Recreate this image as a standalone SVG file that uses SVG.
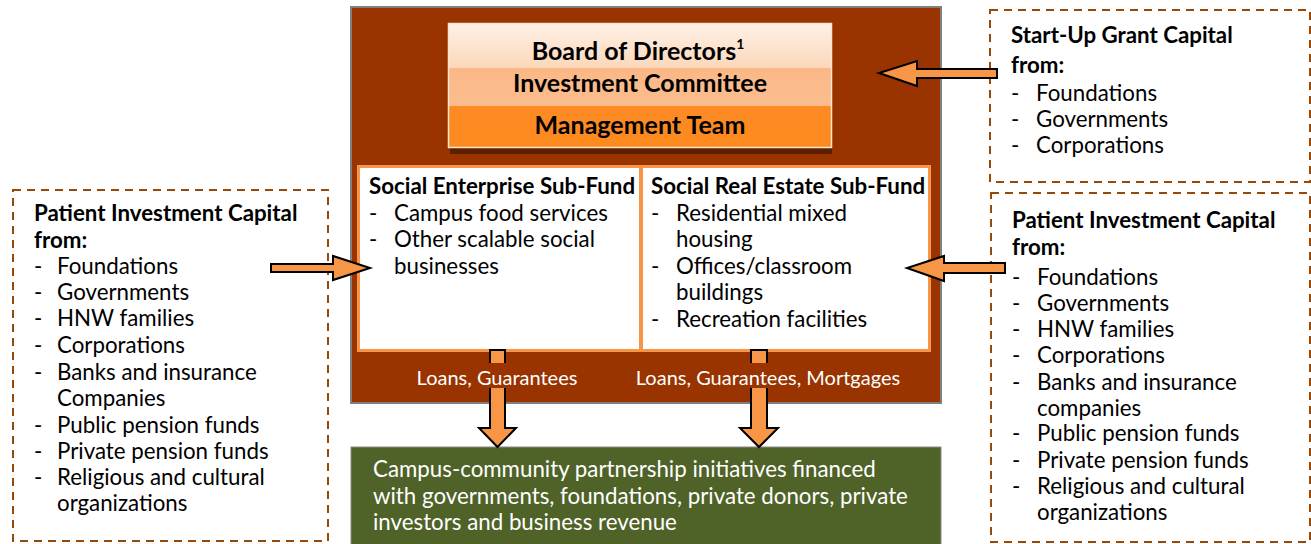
<svg xmlns="http://www.w3.org/2000/svg" width="1311" height="544" viewBox="0 0 1311 544">
<defs>
<style>
.t{font-family:Lato,"Liberation Sans",sans-serif;font-size:22.3px;fill:#000}
.b{font-weight:bold}
.w{fill:#fff}
.h{font-size:25px}
.lbl{font-size:20px}
.dash{fill:#fff;stroke:#984807;stroke-width:2;stroke-dasharray:8 6}
.arr{fill:#f79646;stroke:#000;stroke-width:2;stroke-linejoin:miter}
</style>
<linearGradient id="gBoard" x1="0" y1="0" x2="0" y2="1">
<stop offset="0" stop-color="#fef1e8"/><stop offset="1" stop-color="#fcd7b8"/>
</linearGradient>
<linearGradient id="gIC" x1="0" y1="0" x2="0" y2="1">
<stop offset="0" stop-color="#fbb886"/><stop offset="1" stop-color="#fbbd8e"/>
</linearGradient>
<linearGradient id="gMT" x1="0" y1="0" x2="0" y2="1">
<stop offset="0" stop-color="#fd8a24"/><stop offset="1" stop-color="#fd8a1e"/>
</linearGradient>
</defs>
<rect width="1311" height="544" fill="#fff"/>

<g id="main-fund">
<rect x="351" y="7" width="590" height="396" fill="#993300" stroke="#808080" stroke-width="2"/>
</g>

<g id="governance">
<rect x="450" y="148" width="382" height="6" fill="#5c1f00"/>
<rect x="448" y="23" width="384" height="46" fill="url(#gBoard)"/>
<rect x="448" y="68" width="384" height="39" fill="url(#gIC)"/>
<rect x="448" y="106" width="384" height="42" fill="url(#gMT)"/>
<rect x="448.5" y="23.5" width="383" height="124" fill="none" stroke="#fde4d0" stroke-width="1.5"/>
<text class="t b h" x="638" y="60" text-anchor="middle">Board of Directors<tspan font-size="14" dy="-11">1</tspan></text>
<text class="t b h" x="640" y="92" text-anchor="middle">Investment Committee</text>
<text class="t b h" x="640" y="134" text-anchor="middle">Management Team</text>
</g>

<g id="sub-funds">
<rect x="357" y="165" width="574" height="187" fill="#f79646"/>
<rect x="360" y="168" width="279" height="181" fill="#fff"/>
<rect x="643" y="168" width="285" height="181" fill="#fff"/>
</g>

<g id="social-enterprise">
<text class="t b" x="369" y="194">Social Enterprise Sub-Fund</text>
<text class="t" x="369" y="221">-</text><text class="t" x="394" y="221">Campus food services</text>
<text class="t" x="369" y="247">-</text><text class="t" x="394" y="247">Other scalable social</text>
<text class="t" x="394" y="274">businesses</text>
</g>

<g id="social-real-estate">
<text class="t b" x="651" y="194">Social Real Estate Sub-Fund</text>
<text class="t" x="651" y="221">-</text><text class="t" x="676" y="221">Residential mixed</text>
<text class="t" x="676" y="247">housing</text>
<text class="t" x="651" y="274">-</text><text class="t" x="676" y="274">Offices/classroom</text>
<text class="t" x="676" y="300">buildings</text>
<text class="t" x="651" y="327">-</text><text class="t" x="676" y="327">Recreation facilities</text>
</g>

<g id="outcome">
<rect x="351" y="447" width="590" height="100" fill="#4f6228" stroke="#8a8a8a" stroke-width="1"/>
<text class="t w" x="373" y="477">Campus-community partnership initiatives financed</text>
<text class="t w" x="373" y="504">with governments, foundations, private donors, private</text>
<text class="t w" x="373" y="530">investors and business revenue</text>
</g>

<g id="startup-grant">
<rect class="dash" x="990" y="10" width="320" height="172"/>
<text class="t b" x="1011" y="43">Start-Up Grant Capital</text>
<text class="t b" x="1011" y="73">from:</text>
<text class="t" x="1011" y="101">-</text><text class="t" x="1036" y="101">Foundations</text>
<text class="t" x="1011" y="127">-</text><text class="t" x="1036" y="127">Governments</text>
<text class="t" x="1011" y="153">-</text><text class="t" x="1036" y="153">Corporations</text>
</g>

<g id="patient-left">
<rect class="dash" x="13" y="190" width="315" height="351"/>
<text class="t b" x="34" y="221">Patient Investment Capital</text>
<text class="t b" x="34" y="248">from:</text>
<text class="t" x="34" y="274">-</text><text class="t" x="57" y="274">Foundations</text>
<text class="t" x="34" y="300">-</text><text class="t" x="57" y="300">Governments</text>
<text class="t" x="34" y="326">-</text><text class="t" x="57" y="326">HNW families</text>
<text class="t" x="34" y="353">-</text><text class="t" x="57" y="353">Corporations</text>
<text class="t" x="34" y="380">-</text><text class="t" x="57" y="380">Banks and insurance</text>
<text class="t" x="57" y="406">Companies</text>
<text class="t" x="34" y="433">-</text><text class="t" x="57" y="433">Public pension funds</text>
<text class="t" x="34" y="459">-</text><text class="t" x="57" y="459">Private pension funds</text>
<text class="t" x="34" y="485">-</text><text class="t" x="57" y="485">Religious and cultural</text>
<text class="t" x="57" y="511">organizations</text>
</g>

<g id="patient-right">
<rect class="dash" x="991" y="193" width="319" height="349"/>
<text class="t b" x="1012" y="228">Patient Investment Capital</text>
<text class="t b" x="1012" y="255">from:</text>
<text class="t" x="1012" y="285">-</text><text class="t" x="1037" y="285">Foundations</text>
<text class="t" x="1012" y="311">-</text><text class="t" x="1037" y="311">Governments</text>
<text class="t" x="1012" y="337">-</text><text class="t" x="1037" y="337">HNW families</text>
<text class="t" x="1012" y="363">-</text><text class="t" x="1037" y="363">Corporations</text>
<text class="t" x="1012" y="390">-</text><text class="t" x="1037" y="390">Banks and insurance</text>
<text class="t" x="1037" y="416">companies</text>
<text class="t" x="1012" y="441">-</text><text class="t" x="1037" y="441">Public pension funds</text>
<text class="t" x="1012" y="468">-</text><text class="t" x="1037" y="468">Private pension funds</text>
<text class="t" x="1012" y="494">-</text><text class="t" x="1037" y="494">Religious and cultural</text>
<text class="t" x="1037" y="520">organizations</text>
</g>

<g id="connectors">
<polygon class="arr" points="271,264 333,264 333,256 370,268 333,280 333,272 271,272"/>
<polygon class="arr" points="997,69 917,69 917,61 879,73 917,86 917,78 997,78"/>
<polygon class="arr" points="1005,263 944,263 944,256 907,268 944,281 944,273 1005,273"/>
<polygon class="arr" points="490,350 505,350 505,428 516,428 497.5,447 479,428 490,428"/>
<polygon class="arr" points="751,350 767,350 767,428 778,428 759,447 740,428 751,428"/>
<rect x="470" y="363" width="60" height="25" fill="#993300"/>
<rect x="730" y="363" width="60" height="25" fill="#993300"/>
<text class="t w lbl" x="497" y="385" text-anchor="middle">Loans, Guarantees</text>
<text class="t w lbl" x="768" y="385" text-anchor="middle">Loans, Guarantees, Mortgages</text>
</g>
</svg>
